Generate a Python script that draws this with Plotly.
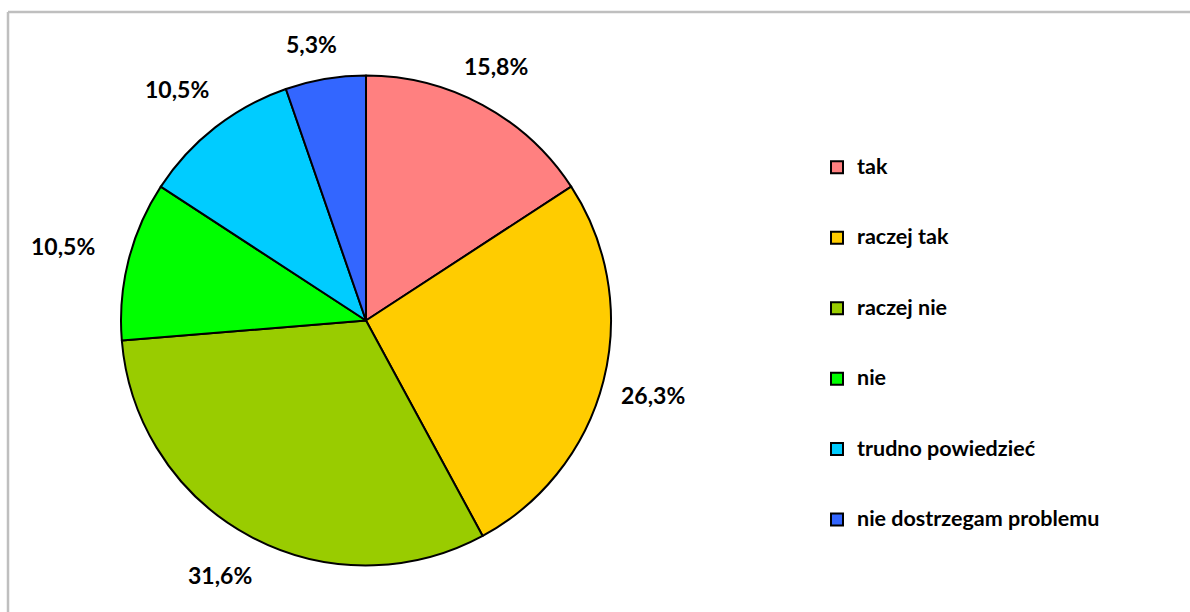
import math
import plotly.graph_objects as go

categories = ["tak", "raczej tak", "raczej nie", "nie", "trudno powiedzieć", "nie dostrzegam problemu"]
percent_values = [15.8, 26.3, 31.6, 10.5, 10.5, 5.3]
slice_colors = ["#FF8080", "#FFCC00", "#99CC00", "#00FF00", "#00CCFF", "#3366FF"]

W, H = 1190, 612
CX, CY, R = 366, 320.5, 245

FONT = "Lato"
LABEL_SIZE = 23
LEGEND_TEXT_SIZE = 21.5

legend_labels = [f"&nbsp;<br><span style='font-size:{LEGEND_TEXT_SIZE}px'>{c}</span><br>&nbsp;" for c in categories]

fig = go.Figure()
fig.add_trace(go.Pie(
    labels=legend_labels,
    values=percent_values,
    sort=False,
    direction="clockwise",
    rotation=0,
    textinfo="none",
    hoverinfo="skip",
    marker=dict(colors=slice_colors, line=dict(color="black", width=2)),
    domain=dict(x=[(CX - R) / W, (CX + R) / W], y=[(H - CY - R) / H, (H - CY + R) / H]),
))

# data labels placed outside each slice (Excel-like "outside end")
total = sum(percent_values)
cum = 0.0
annotations = []
LCX = CX - 8
for v in percent_values:
    mid = (cum + v / 2) / total * 2 * math.pi
    cum += v
    s, c = math.sin(mid), math.cos(mid)
    txt = f"{v:.1f}".replace(".", ",") + "%"
    dist = 275 + 30 * abs(s)
    px = LCX + dist * s
    py = CY - dist * c
    annotations.append(dict(
        x=px / W, y=1 - py / H, xref="paper", yref="paper",
        text=txt, showarrow=False, xanchor="center", yanchor="middle",
        font=dict(family=FONT, size=LABEL_SIZE, color="black", weight="bold"),
    ))

fig.update_layout(
    width=W, height=H,
    margin=dict(l=0, r=0, t=0, b=0),
    paper_bgcolor="white",
    plot_bgcolor="white",
    showlegend=True,
    legend=dict(
        x=817 / W, xanchor="left",
        y=1 - 127 / H, yanchor="top",
        font=dict(family=FONT, size=17.3, color="black", weight="bold"),
        bgcolor="rgba(0,0,0,0)",
        itemclick=False, itemdoubleclick=False,
    ),
    annotations=annotations,
    shapes=[
        dict(type="line", xref="paper", yref="paper", x0=8 / W, x1=1.0, y0=1 - 12 / H, y1=1 - 12 / H,
             line=dict(color="#BFBFBF", width=2.5)),
        dict(type="line", xref="paper", yref="paper", x0=8 / W, x1=8 / W, y0=0, y1=1 - 12 / H,
             line=dict(color="#BFBFBF", width=2.5)),
    ],
)

fig.write_html("out.html", config={"displayModeBar": False},
               post_script="document.body.style.margin='0';")
